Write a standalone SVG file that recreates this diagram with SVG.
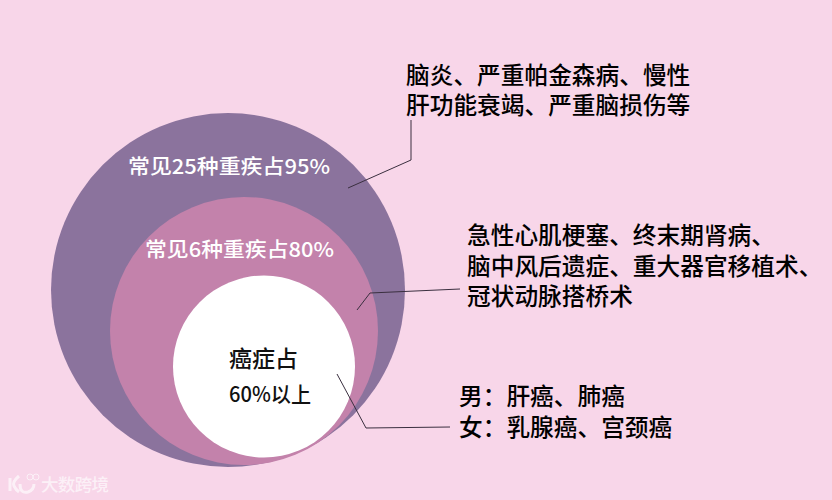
<svg xmlns="http://www.w3.org/2000/svg" width="832" height="500" viewBox="0 0 832 500">
<style>
text{font-family:"Noto Sans CJK SC","Liberation Sans",sans-serif}
.l{font-size:23.700px;fill:#000;font-weight:500}
.w{font-size:20.500px;fill:#fff;font-weight:500}
.c{font-size:23px;fill:#111;font-weight:500}
.n{font-size:21px;fill:#111;font-weight:500}
.ln{fill:none;stroke:#3a2f3f;stroke-width:1}
</style>
<rect width="832" height="500" fill="#f8d6e9"/>
<g id="outer"><circle cx="228" cy="290" r="177" fill="#8b739d"/><text class="w" x="128" y="174" textLength="202" lengthAdjust="spacingAndGlyphs">常见25种重疾占95%</text></g>
<g id="middle"><circle cx="244" cy="331" r="134" fill="#c382ab"/><text class="w" x="145" y="257" textLength="189" lengthAdjust="spacingAndGlyphs">常见6种重疾占80%</text></g>
<g id="inner"><circle cx="264" cy="366.500" r="91" fill="#fff"/><text class="c" x="229" y="367">癌症占</text><text class="n" x="229" y="402" textLength="82" lengthAdjust="spacingAndGlyphs">60%以上</text></g>
<g id="connectors">
<polyline class="ln" points="411,120 411,160 348,188"/>
<polyline class="ln" points="460,289 370,293 357,310"/>
<polyline class="ln" points="337,374 366,428 450,427"/>
</g>
<g id="label-top"><text class="l" x="406" y="84">脑炎、严重帕金森病、慢性</text><text class="l" x="406" y="114">肝功能衰竭、严重脑损伤等</text></g>
<g id="label-mid"><text class="l" x="467" y="244">急性心肌梗塞、终末期肾病、</text><text class="l" x="467" y="275">脑中风后遗症、重大器官移植术、</text><text class="l" x="467" y="305">冠状动脉搭桥术</text></g>
<g id="label-bot"><text class="l" x="459" y="405">男：肝癌、肺癌</text><text class="l" x="459" y="436">女：乳腺癌、宫颈癌</text></g>
<g id="watermark" opacity="0.65">
<path d="M10 478V491M19 476Q12 482 14 486Q16 490 19 492M20 484Q20 494 28 492Q34 490 34 484" fill="none" stroke="#fff" stroke-width="3"/>
<circle cx="30" cy="477" r="3" fill="none" stroke="#fff"/><circle cx="36" cy="477" r="3" fill="none" stroke="#fff"/>
<text x="41" y="491" font-size="17.500" font-weight="500" fill="#fff" textLength="68">大数跨境</text>
</g>
</svg>
